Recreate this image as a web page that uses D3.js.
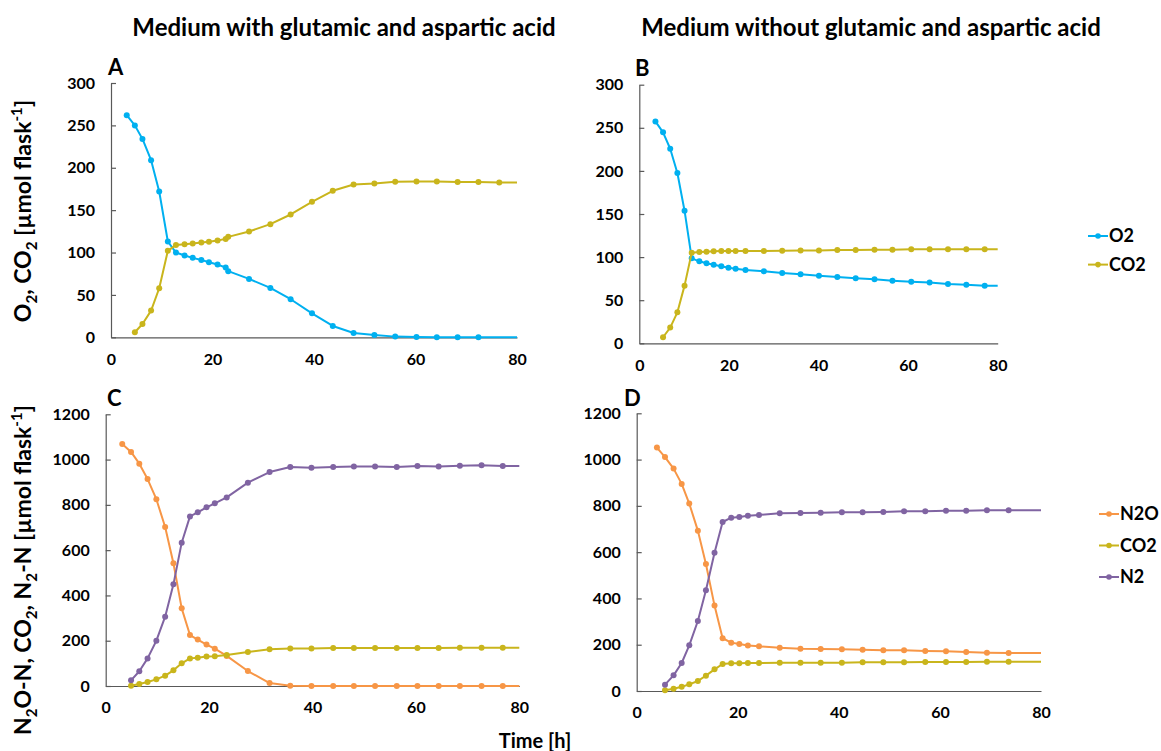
<!DOCTYPE html>
<html><head><meta charset="utf-8">
<script src="https://cdn.jsdelivr.net/npm/d3@7"></script>
<style>
body{margin:0;background:#fff;}
text{font-family:Lato,'Open Sans',sans-serif;font-weight:bold;fill:#000;}
</style>
</head><body>
<svg id="chart" width="1161" height="751"></svg>
<script>
// ---------- data ----------
const xTicks = [0, 20, 40, 60, 80];
const yTicksTop = [0, 50, 100, 150, 200, 250, 300];
const yTicksBottom = [0, 200, 400, 600, 800, 1000, 1200];

const titles = ["Medium with glutamic and aspartic acid", "Medium without glutamic and aspartic acid"];

// Panel A: medium with glutamic and aspartic acid
const timeA = [3.1, 4.7, 6.2, 7.9, 9.5, 11.2, 12.8, 14.5, 16.1, 17.8, 19.3, 21.0, 22.6, 23.1, 27.2, 31.4, 35.4, 39.6, 43.7, 47.8, 51.9, 56.0, 60.2, 64.2, 68.3, 72.4, 76.5];
const o2A = [262, 250, 234, 209, 172, 113, 100, 96.5, 93.7, 91.3, 88.6, 85.8, 82.3, 78, 68.9, 58.3, 44.9, 28.3, 13.4, 5.1, 2.8, 0.8, 0.4, 0, 0, 0, null];
const co2A = [null, 5.9, 15.7, 31.5, 57.9, 102, 109, 109.8, 110.6, 111.8, 112.6, 114.2, 116.1, 118.5, 124.8, 133.5, 144.9, 159.8, 172.8, 180.3, 181.5, 183.5, 183.9, 183.9, 183.1, 183.1, 182.7];

// Panel B: medium without glutamic and aspartic acid
const timeB = [3.6, 5.3, 6.9, 8.5, 10.1, 11.7, 13.4, 15.0, 16.6, 18.3, 19.9, 21.5, 23.7, 27.8, 31.9, 36.0, 40.1, 44.2, 48.3, 52.5, 56.5, 60.7, 64.8, 68.9, 73.0, 77.1];
const o2B = [257.4, 244.7, 225.7, 197.5, 153.8, 98.6, 95.1, 92.8, 91.2, 89.3, 87.7, 86.6, 85, 83.5, 81.6, 80, 78.5, 76.9, 75.4, 74.2, 72.7, 71.5, 70.4, 68.8, 68, 66.9];
const co2B = [null, 7, 18.2, 35.9, 66.9, 105.1, 105.9, 106.3, 106.7, 107.1, 107.1, 107.1, 107.1, 107.1, 107.5, 107.8, 107.8, 108.2, 108.2, 108.6, 108.6, 109, 109, 109, 109, 109];

// Panel C
const timeC = [3.2, 4.9, 6.5, 8.1, 9.8, 11.5, 13.1, 14.7, 16.3, 17.8, 19.5, 21.1, 23.4, 27.5, 31.7, 35.7, 39.8, 44.0, 48.0, 52.1, 56.3, 60.3, 64.4, 68.5, 72.7, 76.8];
const n2oC = [1069, 1034, 982, 914, 825, 702, 542, 343, 225, 205, 183, 165, 133, 66, 13, 1.5, 0, 0, 0, 0, 0, 0, 0, 0, 0, 0];
const co2C = [null, 1.5, 8.8, 17.7, 29.4, 45.6, 69.2, 100, 122, 125, 130, 131, 137, 150, 162, 166, 166, 168, 168, 168, 168, 168, 168, 169, 169, 169];
const n2C = [null, 25, 65, 122, 200, 306, 449, 633, 749, 767, 789, 807, 833, 898, 945, 967, 964, 967, 969, 969, 967, 972, 970, 973, 975, 972];

// Panel D
const timeD = [4.0, 5.6, 7.3, 8.9, 10.4, 12.1, 13.7, 15.4, 17.0, 18.7, 20.3, 22.0, 24.2, 28.3, 32.4, 36.4, 40.6, 44.7, 48.8, 52.9, 57.1, 61.2, 65.2, 69.3, 73.6];
const n2oD = [1052, 1011, 961, 895, 810, 693, 549, 369, 228, 209, 203, 197, 193, 187, 183, 181.5, 180, 178.6, 175.7, 175.7, 172.9, 171.4, 168.5, 165.7, 164.2];
const co2D = [null, 2.9, 10, 18.7, 28.8, 43.2, 66.3, 93.6, 116.7, 119.6, 119.6, 121, 121, 122.4, 122.4, 122.4, 122.4, 123.9, 123.9, 123.9, 125.3, 125.3, 125.3, 126.8, 126.8];
const n2D = [null, 27.4, 67.7, 121, 197.3, 302.5, 435, 597.8, 730.3, 749, 752, 757.7, 760.6, 767.8, 769.2, 770.7, 772.1, 772.1, 773.6, 776.4, 776.4, 779.3, 779.3, 780.8, 780.8];

const legendTop = ["O2", "CO2"];
const legendBottom = ["N2O", "CO2", "N2"];

// ---------- styles ----------
const COL = {O2: "#00b0f0", CO2: "#c9b51c", N2O: "#f79646", N2: "#8064a2"};
const AXIS_COL = "#595959";

const panels = [
  {letter: "A", time: timeA, series: [["O2", o2A], ["CO2", co2A]], yMax: 300, yTicks: yTicksTop,
   box: {l: 111, r: 517, t: 83, b: 337.3}, letterPos: [108, 75]},
  {letter: "B", time: timeB, series: [["O2", o2B], ["CO2", co2B]], yMax: 300, yTicks: yTicksTop,
   box: {l: 639.3, r: 997.7, t: 84.7, b: 343.3}, letterPos: [635, 76]},
  {letter: "C", time: timeC, series: [["N2O", n2oC], ["CO2", co2C], ["N2", n2C]], yMax: 1200, yTicks: yTicksBottom,
   box: {l: 105.7, r: 519.3, t: 414.3, b: 686}, letterPos: [107, 406]},
  {letter: "D", time: timeD, series: [["N2O", n2oD], ["CO2", co2D], ["N2", n2D]], yMax: 1200, yTicks: yTicksBottom,
   box: {l: 636.7, r: 1041, t: 413.3, b: 691}, letterPos: [624, 406]}
];

const svg = d3.select("#chart");
svg.append("rect").attr("width", 1161).attr("height", 751).attr("fill", "#fff");

// titles
svg.append("text").attr("x", 344).attr("y", 36).attr("text-anchor", "middle")
  .style("font-size", "24px").text(titles[0]);
svg.append("text").attr("x", 871).attr("y", 36).attr("text-anchor", "middle")
  .style("font-size", "24px").text(titles[1]);

panels.forEach(p => {
  const x = d3.scaleLinear().domain([0, 80]).range([p.box.l, p.box.r]);
  const y = d3.scaleLinear().domain([0, p.yMax]).range([p.box.b, p.box.t]);
  const g = svg.append("g");

  const ya = g.append("g").attr("transform", `translate(${p.box.l},0)`)
    .call(d3.axisLeft(y).tickValues(p.yTicks).tickFormat(d3.format("d"))
      .tickSizeInner(-5).tickSizeOuter(0).tickPadding(16));
  const xa = g.append("g").attr("transform", `translate(0,${p.box.b})`)
    .call(d3.axisBottom(x).tickValues(xTicks).tickFormat(d3.format("d")).tickSize(0).tickPadding(16));
  [ya, xa].forEach(a => {
    a.select(".domain").attr("stroke", AXIS_COL).attr("stroke-width", 1.2);
    a.selectAll(".tick line").attr("stroke", AXIS_COL).attr("stroke-width", 1.2);
    a.selectAll(".tick text").style("font-size", "16px").style("font-family", "Lato,'Open Sans',sans-serif")
      .style("font-weight", "bold").attr("fill", "#000");
  });

  g.append("text").attr("x", p.letterPos[0]).attr("y", p.letterPos[1])
    .style("font-size", "22px").text(p.letter);

  p.series.forEach(([name, vals]) => {
    const pts = p.time.map((t, i) => ({t, v: vals[i]})).filter(d => d.v != null);
    const last = pts[pts.length - 1];
    const linePts = pts.concat([{t: x.domain()[1], v: last.v}]);
    g.append("path").datum(linePts)
      .attr("fill", "none").attr("stroke", COL[name]).attr("stroke-width", 2)
      .attr("stroke-linejoin", "round")
      .attr("d", d3.line().x(d => x(d.t)).y(d => y(d.v)));
    g.selectAll(null).data(pts).enter().append("circle")
      .attr("cx", d => x(d.t)).attr("cy", d => y(d.v)).attr("r", 3)
      .attr("fill", COL[name]);
  });
});

// legends
function legend(names, x0, y0, dy) {
  names.forEach((n, i) => {
    const yy = y0 + i * dy;
    svg.append("line").attr("x1", x0).attr("x2", x0 + 20).attr("y1", yy).attr("y2", yy)
      .attr("stroke", COL[n]).attr("stroke-width", 2);
    svg.append("circle").attr("cx", x0 + 10).attr("cy", yy).attr("r", 2.8).attr("fill", COL[n]);
    svg.append("text").attr("x", x0 + 21).attr("y", yy).attr("dy", "0.36em")
      .style("font-size", "18px").text(n);
  });
}
legend(legendTop, 1088, 236, 28.6);
legend(legendBottom, 1099, 514, 31.5);

// rich text helper for sub/superscripts
function rich(sel, parts, base) {
  let shift = 0;
  parts.forEach(([s, kind]) => {
    const target = kind === "sub" ? 6 : kind === "sup" ? -9 : 0;
    sel.append("tspan").attr("dy", target - shift)
      .style("font-size", kind ? (base * 0.66) + "px" : base + "px").text(s);
    shift = target;
  });
}
const yl1 = svg.append("text").attr("transform", "translate(31,211) rotate(-90)").attr("text-anchor", "middle");
rich(yl1, [["O"], ["2", "sub"], [",  CO"], ["2", "sub"], [" [µmol flask"], ["-1", "sup"], ["]"]], 23);
const yl2 = svg.append("text").attr("transform", "translate(31,570) rotate(-90)").attr("text-anchor", "middle");
rich(yl2, [["N"], ["2", "sub"], ["O-N, CO"], ["2", "sub"], [", N"], ["2", "sub"], ["-N [µmol flask"], ["-1", "sup"], ["]"]], 23);

svg.append("text").attr("x", 535).attr("y", 748).attr("text-anchor", "middle")
  .style("font-size", "20px").text("Time [h]");
</script>
</body></html>
